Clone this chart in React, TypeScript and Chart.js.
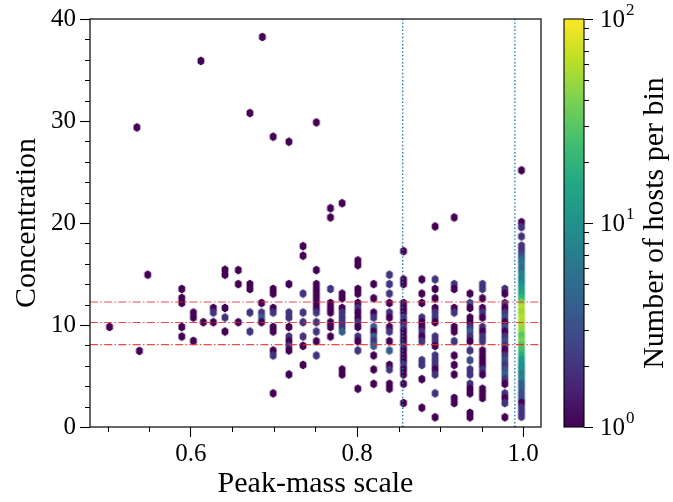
import React, { useEffect, useRef } from 'react';
import { Chart, registerables } from 'chart.js';

Chart.register(...registerables);

// ---------- axes ----------
const xLimits = [0.4785, 1.0215];
const yLimits = [0, 40];
const xMajorTicks = [0.6, 0.8, 1.0];
const xMinorTicks = [0.5, 0.55, 0.65, 0.7, 0.75, 0.85, 0.9, 0.95];
const yMajorTicks = [0, 10, 20, 30, 40];
const yMinorTicks = [2, 4, 6, 8, 12, 14, 16, 18, 22, 24, 26, 28, 32, 34, 36, 38];

// ---------- colorbar ----------
const colorbarRange = [1, 100];
const colorbarMajor = [1, 10, 100];
const colorbarExponents = ['0', '1', '2'];
const colorbarMinor = [2, 3, 4, 5, 6, 7, 8, 9, 20, 30, 40, 50, 60, 70, 80, 90];
const colorbarTitle = 'Number of hosts per bin';

// ---------- reference lines ----------
const peakScaleCuts = [0.855, 0.99];
const concentrationLevels = [8.08, 10.25, 12.25];

// ---------- hexbin cells (column x, cell y, hosts per cell) ----------
const columnX = [
  0.502, 0.535, 0.538, 0.548, 0.589, 0.603, 0.612, 0.615, 0.627, 0.641,
  0.657, 0.671, 0.686, 0.685, 0.699, 0.718, 0.735, 0.751, 0.768, 0.782,
  0.801, 0.82, 0.839, 0.856, 0.878, 0.894, 0.917, 0.936, 0.951, 0.978, 0.998,
];
const columnY = [
  [9.81],
  [29.37],
  [7.46],
  [14.93],
  [13.53, 12.65, 12.16, 9.81, 8.87],
  [11.22, 10.73, 8.44],
  [35.89],
  [10.27],
  [11.67, 11.22, 10.27],
  [15.42, 14.93, 11.67, 10.73, 9.36],
  [15.38, 14.01, 10.27],
  [30.78, 14.01, 13.53, 11.22, 9.36],
  [38.24],
  [12.16, 11.22, 10.73, 10.27],
  [28.46, 13.53, 13.08, 11.67, 11.22, 9.81, 9.36, 7.5, 7.01, 3.3],
  [27.97, 14.01, 11.22, 10.73, 9.81, 8.87, 8.41, 7.95, 7.5, 5.15],
  [17.73, 16.79, 13.08, 11.22, 10.27, 8.87, 7.95, 6.09],
  [29.86, 15.38, 14.01, 13.53, 13.08, 12.62, 12.16, 11.67, 11.22, 10.27, 9.36, 8.41, 7.01],
  [21.45, 20.54, 13.53, 12.16, 11.67, 11.22, 10.27, 9.81, 8.87],
  [21.94, 13.08, 12.62, 11.67, 11.22, 10.73, 10.27, 9.81, 9.36, 5.64, 5.15],
  [16.33, 15.87, 13.53, 13.08, 12.16, 11.67, 11.22, 10.73, 10.27, 9.81, 8.87, 8.41, 7.5, 3.75],
  [14.01, 12.62, 11.22, 10.73, 9.81, 9.36, 8.87, 8.41, 7.95, 7.01, 5.64, 4.23],
  [14.93, 14.01, 13.08, 12.16, 11.22, 10.73, 9.81, 9.36, 8.41, 7.5, 6.09, 5.64, 4.23, 3.75],
  [17.24, 14.47, 14.01, 12.16, 11.67, 11.22, 10.73, 10.27, 9.81, 9.36, 8.87, 8.41, 7.95, 7.5, 7.01, 6.55, 6.09, 5.64, 5.15, 4.23, 2.35],
  [14.47, 13.08, 12.16, 10.73, 10.27, 9.81, 9.36, 8.87, 8.41, 6.55, 6.09, 4.69, 1.89],
  [19.66, 14.47, 13.53, 12.62, 11.67, 11.22, 10.73, 10.27, 8.87, 8.41, 7.95, 7.01, 6.55, 6.09, 5.64, 5.15, 3.3, 0.95],
  [20.54, 14.01, 13.53, 11.67, 11.22, 9.81, 9.36, 8.41, 7.01, 6.09, 5.15, 2.84, 2.35],
  [13.08, 12.16, 11.67, 10.73, 10.27, 9.81, 9.36, 8.87, 8.41, 7.5, 6.55, 5.64, 5.15, 4.23, 3.75, 3.3, 1.38, 0.95],
  [14.01, 13.53, 12.62, 11.67, 11.22, 10.73, 9.81, 9.36, 8.87, 8.41, 7.5, 7.01, 6.55, 6.09, 5.64, 5.15, 3.75, 3.3, 2.84],
  [13.53, 13.08, 12.16, 11.67, 11.22, 10.73, 10.27, 9.81, 9.36, 8.87, 8.41, 7.95, 7.5, 7.01, 6.55, 6.09, 5.64, 5.15, 4.69, 4.23, 3.3, 2.84, 2.35, 0.95],
  [25.16, 20.08, 19.59, 18.68, 17.77, 17.31, 16.85, 16.4, 15.94, 15.45, 14.99, 14.5, 14.05, 13.59, 13.13, 12.65, 12.2, 11.71, 11.25, 10.79, 10.3, 9.88, 9.39, 8.93, 8.44, 7.99, 7.53, 7.04, 6.55, 6.06, 5.64, 5.18, 4.72, 4.27, 3.81, 3.3, 2.81, 2.38, 1.93, 1.47, 1.01],
];
const columnN = [
  [1],
  [1],
  [1],
  [1],
  [1, 1, 1, 1, 1],
  [1, 1, 1],
  [1],
  [1],
  [1, 2, 1],
  [1, 1, 1, 2, 1],
  [1, 1, 1],
  [1, 1, 1, 2, 2],
  [1],
  [1, 2, 4, 1],
  [1, 1, 1, 1, 2, 1, 1, 1, 2, 1],
  [1, 1, 2, 2, 1, 2, 1, 2, 1, 1],
  [1, 1, 2, 2, 2, 2, 1, 1],
  [1, 1, 1, 1, 1, 1, 1, 1, 2, 2, 2, 1, 2],
  [1, 1, 2, 1, 1, 1, 1, 1, 1],
  [1, 1, 1, 1, 2, 2, 2, 2, 4, 1, 1],
  [1, 1, 1, 1, 1, 2, 1, 1, 2, 1, 2, 1, 2, 1],
  [1, 1, 1, 2, 4, 1, 4, 2, 4, 1, 1, 1],
  [2, 2, 2, 1, 2, 1, 1, 2, 1, 4, 1, 2, 1, 1],
  [1, 1, 1, 1, 1, 1, 2, 1, 2, 1, 1, 1, 2, 1, 1, 1, 2, 1, 1, 1, 1],
  [1, 1, 1, 2, 1, 1, 2, 1, 2, 2, 2, 1, 1],
  [1, 2, 1, 1, 1, 2, 2, 1, 2, 2, 1, 2, 2, 2, 1, 2, 2, 1],
  [1, 2, 1, 1, 2, 1, 1, 2, 1, 1, 1, 1, 1],
  [1, 3, 1, 1, 1, 2, 4, 2, 1, 2, 3, 2, 2, 2, 1, 1, 1, 1],
  [2, 2, 1, 1, 2, 1, 2, 1, 2, 2, 1, 1, 1, 1, 2, 1, 1, 1, 1],
  [2, 1, 2, 1, 2, 3, 1, 3, 1, 2, 3, 2, 1, 2, 3, 2, 3, 4, 2, 1, 2, 1, 2, 1],
  [1, 1, 2, 2, 2, 2, 3, 5, 6, 5, 8, 7, 10, 12, 15, 20, 40, 60, 50, 60, 55, 50, 45, 30, 40, 30, 25, 18, 12, 10, 10, 7, 8, 4, 4, 3, 3, 1, 2, 2, 2],
];

// ---------- styling ----------
const FONT = "'Liberation Serif', 'Times New Roman', serif";
const VIRIDIS = [
  '#440154', '#482475', '#414487', '#355f8d', '#2a788e', '#21918c',
  '#22a884', '#44bf70', '#7ad151', '#bddf26', '#fde725',
];

function hexToRgb(h: string) {
  const v = parseInt(h.slice(1), 16);
  return [(v >> 16) & 255, (v >> 8) & 255, v & 255];
}
function viridis(t: number) {
  const tt = Math.max(0, Math.min(1, t)) * (VIRIDIS.length - 1);
  const i = Math.min(VIRIDIS.length - 2, Math.floor(tt));
  const f = tt - i;
  const a = hexToRgb(VIRIDIS[i]);
  const b = hexToRgb(VIRIDIS[i + 1]);
  const c = a.map((v, k) => Math.round(v + (b[k] - v) * f));
  return `rgb(${c[0]},${c[1]},${c[2]})`;
}
function colorForCount(n: number) {
  const lo = Math.log10(colorbarRange[0]);
  const hi = Math.log10(colorbarRange[1]);
  return viridis((Math.log10(n) - lo) / (hi - lo));
}

const hexCache = new Map<string, HTMLCanvasElement>();
function hexImage(color: string) {
  const hit = hexCache.get(color);
  if (hit) return hit;
  const c = document.createElement('canvas');
  c.width = 10;
  c.height = 12;
  const g = c.getContext('2d')!;
  const cx = 5, cy = 6, hw = 2.7, hh = 3.6;
  g.beginPath();
  g.moveTo(cx, cy - hh);
  g.lineTo(cx + hw, cy - hh / 2);
  g.lineTo(cx + hw, cy + hh / 2);
  g.lineTo(cx, cy + hh);
  g.lineTo(cx - hw, cy + hh / 2);
  g.lineTo(cx - hw, cy - hh / 2);
  g.closePath();
  g.fillStyle = color;
  g.fill();
  g.strokeStyle = color;
  g.lineWidth = 1.4;
  g.lineJoin = 'round';
  g.stroke();
  hexCache.set(color, c);
  return c;
}

const decorPlugin = {
  id: 'decor',
  afterDraw(chart: any) {
    const { ctx, chartArea: a, scales } = chart;
    const xs = scales.x, ys = scales.y, cb = scales.cb;
    ctx.save();
    ctx.strokeStyle = '#000';
    ctx.lineWidth = 1;
    ctx.beginPath();
    for (const v of xMinorTicks) {
      const p = Math.round(xs.getPixelForValue(v)) + 0.5;
      ctx.moveTo(p, a.bottom);
      ctx.lineTo(p, a.bottom + 5);
    }
    for (const v of yMinorTicks) {
      const p = Math.round(ys.getPixelForValue(v)) + 0.5;
      ctx.moveTo(a.left, p);
      ctx.lineTo(a.left - 5, p);
    }
    ctx.stroke();
    ctx.lineWidth = 1.2;
    ctx.strokeRect(a.left, a.top, a.right - a.left, a.bottom - a.top);

    // colorbar
    const top = cb.getPixelForValue(colorbarRange[1]);
    const bottom = cb.getPixelForValue(colorbarRange[0]);
    const bx = a.right + 23, bw = 20;
    const grad = ctx.createLinearGradient(0, bottom, 0, top);
    VIRIDIS.forEach((c, i) => grad.addColorStop(i / (VIRIDIS.length - 1), c));
    ctx.fillStyle = grad;
    ctx.fillRect(bx, top, bw, bottom - top);
    ctx.lineWidth = 1.1;
    ctx.strokeRect(bx, top, bw, bottom - top);
    ctx.beginPath();
    for (const v of colorbarMajor) {
      const p = Math.round(cb.getPixelForValue(v)) + 0.5;
      ctx.moveTo(bx + bw, p);
      ctx.lineTo(bx + bw + 9, p);
    }
    for (const v of colorbarMinor) {
      const p = Math.round(cb.getPixelForValue(v)) + 0.5;
      ctx.moveTo(bx + bw, p);
      ctx.lineTo(bx + bw + 5, p);
    }
    ctx.stroke();
    ctx.fillStyle = '#000';
    ctx.textBaseline = 'middle';
    ctx.textAlign = 'left';
    colorbarMajor.forEach((v, i) => {
      const p = cb.getPixelForValue(v);
      const lx = bx + bw + 16;
      ctx.font = `25px ${FONT}`;
      ctx.fillText('10', lx, p + 1);
      const w = ctx.measureText('10').width;
      ctx.font = `17px ${FONT}`;
      ctx.fillText(colorbarExponents[i], lx + w + 1, p - 8);
    });
    ctx.translate(655, (top + bottom) / 2);
    ctx.rotate(-Math.PI / 2);
    ctx.textAlign = 'center';
    ctx.font = `30px ${FONT}`;
    ctx.fillText(colorbarTitle, 0, 0);
    ctx.restore();
  },
};

export default function App() {
  const ref = useRef<HTMLCanvasElement>(null);
  useEffect(() => {
    const cells = columnX.flatMap((x, c) =>
      columnY[c].map((y, i) => ({ x, y, n: columnN[c][i] }))
    );
    const lineSets: any[] = [
      ...concentrationLevels.map((v) => ({
        type: 'scatter',
        data: [{ x: xLimits[0], y: v }, { x: xLimits[1], y: v }],
        showLine: true,
        borderColor: 'rgba(235,40,40,0.85)',
        borderWidth: 1.1,
        borderDash: [8, 2.4, 1.4, 2.4],
        pointRadius: 0,
        order: 0,
      })),
      ...peakScaleCuts.map((v) => ({
        type: 'scatter',
        data: [{ x: v, y: yLimits[0] }, { x: v, y: yLimits[1] }],
        showLine: true,
        borderColor: '#1f77b4',
        borderWidth: 1.4,
        borderDash: [1.4, 2.2],
        pointRadius: 0,
        order: 0,
      })),
    ];
    const chart = new Chart(ref.current!, {
      type: 'scatter',
      data: {
        datasets: [
          ...lineSets,
          {
            data: cells,
            order: 1,
            pointRadius: 3,
            pointStyle: (c: any) => hexImage(colorForCount(c.raw ? c.raw.n : 1)),
          } as any,
        ],
      },
      options: {
        animation: false,
        responsive: false,
        events: [],
        layout: { padding: { top: 18, left: 0, right: 0, bottom: 0 } },
        plugins: { legend: { display: false }, tooltip: { enabled: false } },
        scales: {
          x: {
            type: 'linear',
            min: xLimits[0],
            max: xLimits[1],
            afterBuildTicks: (s: any) => { s.ticks = xMajorTicks.map((value) => ({ value })); },
            afterFit: (s: any) => { s.height = 75; },
            border: { display: false },
            grid: { drawOnChartArea: false, tickLength: 10, tickColor: '#000', tickWidth: 1.1 },
            ticks: {
              color: '#000',
              font: { family: FONT, size: 25 },
              padding: 2,
              maxRotation: 0,
              callback: (v: any) => Number(v).toFixed(1),
            },
            title: {
              display: true,
              text: 'Peak-mass scale',
              color: '#000',
              font: { family: FONT, size: 30, lineHeight: 1.2 },
              padding: { top: 0, bottom: 0 },
            },
          },
          y: {
            type: 'linear',
            min: yLimits[0],
            max: yLimits[1],
            afterBuildTicks: (s: any) => { s.ticks = yMajorTicks.map((value) => ({ value })); },
            afterFit: (s: any) => { s.width = 90; },
            border: { display: false },
            grid: { drawOnChartArea: false, tickLength: 10, tickColor: '#000', tickWidth: 1.1 },
            ticks: {
              color: '#000',
              font: { family: FONT, size: 25 },
              padding: 4,
              callback: (v: any) => String(v),
            },
            title: {
              display: true,
              text: 'Concentration',
              color: '#000',
              font: { family: FONT, size: 30, lineHeight: 1.2 },
              padding: { top: 9, bottom: 0 },
            },
          },
          cb: {
            type: 'logarithmic',
            position: 'right',
            min: colorbarRange[0],
            max: colorbarRange[1],
            afterFit: (s: any) => { s.width = 132; },
            border: { display: false },
            grid: { display: false, drawTicks: false },
            ticks: { display: false },
          },
        },
      } as any,
      plugins: [decorPlugin],
    });
    return () => chart.destroy();
  }, []);
  return (
    <div style={{ position: 'fixed', left: 0, top: 0, width: 673, height: 502, background: '#fff' }}>
      <canvas ref={ref} width={673} height={502} />
    </div>
  );
}
